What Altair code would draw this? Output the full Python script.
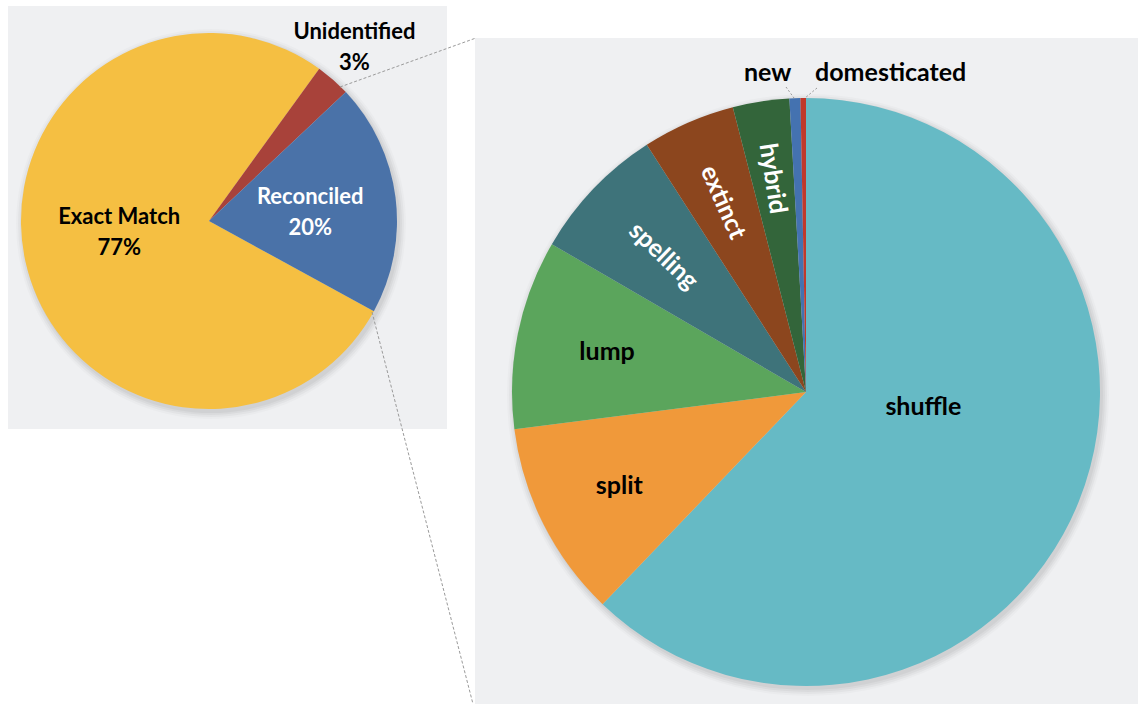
import math
import altair as alt
import pandas as pd

# ---------------- data ----------------
left_categories = ["Exact Match", "Unidentified", "Reconciled"]
left_values = [77, 3, 20]
left_labels = ["Exact Match\n77%", "Unidentified\n3%", "Reconciled\n20%"]
left_colors = ["#F5BF42", "#A8423A", "#4A72A8"]

right_categories = ["shuffle", "split", "lump", "spelling", "extinct", "hybrid", "new", "domesticated"]
right_values = [62.1, 10.8, 10.4, 7.5, 5.1, 3.1, 0.6, 0.3]
right_colors = ["#66BAC5", "#F0993A", "#5BA55C", "#3E737A", "#8C461E", "#33653A", "#4472B0", "#C0392B"]

# ---------------- layout ----------------
W, H = 1138, 704
FONT = "Lato"
PANEL = "#EFF0F2"
L_CX, L_CY, L_R, L_START = 209, 221, 188, 118.7
R_CX, R_CY, R_R, R_START = 806, 392, 294, 0.0


def pie_frame(cats, vals, labels, colors):
    return pd.DataFrame({"cat": cats, "value": vals, "label": labels,
                         "color": colors, "ord": list(range(len(cats)))})


def with_angles(df, start_deg):
    return (
        alt.Chart(df)
        .transform_window(cum="sum(value)", sort=[alt.SortField("ord")], frame=[None, 0])
        .transform_joinaggregate(total="sum(value)")
        .transform_calculate(
            t0=f"{start_deg}*PI/180 + (datum.cum - datum.value) / datum.total * 2 * PI",
            t1=f"{start_deg}*PI/180 + datum.cum / datum.total * 2 * PI",
        )
        .transform_calculate(tm="(datum.t0 + datum.t1) / 2")
        .transform_calculate(rot="datum.tm * 180 / PI - 270")
    )


one = pd.DataFrame({"k": [0]})


def shadow(cx, cy, r):
    layers = []
    for i, op in enumerate([0.04, 0.035, 0.03, 0.02]):
        layers.append(
            alt.Chart(one).mark_arc(theta=0, theta2=2 * math.pi, radius=r + 1 + 2 * i,
                                    color="black", opacity=op)
            .encode(x=alt.value(cx + 2), y=alt.value(cy + 3))
        )
    return layers


def pie(df, cx, cy, r, start, specs):
    base = with_angles(df, start)
    arc = base.mark_arc(radius=r).encode(
        theta=alt.Theta("t0:Q", scale=None, stack=False),
        theta2="t1:Q",
        color=alt.Color("color:N", scale=None),
        x=alt.value(cx), y=alt.value(cy),
    )
    layers = shadow(cx, cy, r) + [arc]
    for s in specs:
        enc = dict(theta=alt.Theta("tm:Q", scale=None, stack=False),
                   text="label:N", x=alt.value(cx), y=alt.value(cy))
        if s.get("radial"):
            enc["angle"] = alt.Angle("rot:Q", scale=None)
        layers.append(
            base.transform_filter(alt.datum.cat == s["cat"]).mark_text(
                radius=s["r"], font=FONT, fontWeight="bold", fontSize=s["size"],
                color=s["color"], align=s.get("align", "center"),
                baseline=s.get("baseline", "middle"), lineBreak="\n",
                lineHeight=s.get("lh", 31), dx=s.get("dx", 0), dy=s.get("dy", 0),
            ).encode(**enc)
        )
    return layers


left_specs = [
    {"cat": "Exact Match", "r": 89, "size": 22, "color": "black", "dx": -3, "dy": -24},
    {"cat": "Reconciled", "r": 101, "size": 22, "color": "white", "dx": 1, "dy": -11},
    {"cat": "Unidentified", "r": 228, "size": 22, "color": "black", "dx": -5, "dy": -18},
]
right_specs = [
    {"cat": "shuffle", "r": 120, "size": 25, "color": "black", "dx": 6, "dy": -30},
    {"cat": "split", "r": 209, "size": 25, "color": "black"},
    {"cat": "lump", "r": 203, "size": 25, "color": "black"},
    {"cat": "spelling", "r": 197, "size": 25, "color": "white", "radial": True},
    {"cat": "extinct", "r": 207, "size": 25, "color": "white", "radial": True},
    {"cat": "hybrid", "r": 216, "size": 25, "color": "white", "radial": True},
    {"cat": "new", "r": 311, "size": 25, "color": "black", "align": "right",
     "baseline": "alphabetic", "dx": -3},
    {"cat": "domesticated", "r": 311, "size": 25, "color": "black", "align": "left",
     "baseline": "alphabetic", "dx": 12},
]


def panel(x1, y1, x2, y2):
    return alt.Chart(one).mark_rect(color=PANEL).encode(
        x=alt.value(x1), x2=alt.value(x2), y=alt.value(y1), y2=alt.value(y2))


def dashed(x1, y1, x2, y2, dash=(3, 2)):
    return alt.Chart(one).mark_rule(color="#9A9A9A", strokeWidth=1, strokeDash=list(dash)).encode(
        x=alt.value(x1), x2=alt.value(x2), y=alt.value(y1), y2=alt.value(y2))


layers = [
    panel(8, 6, 447, 429),
    panel(475, 38, W, H),
]
layers += pie(pie_frame(left_categories, left_values, left_labels, left_colors),
              L_CX, L_CY, L_R, L_START, left_specs)
layers += pie(pie_frame(right_categories, right_values, right_categories, right_colors),
              R_CX, R_CY, R_R, R_START, right_specs)
layers += [
    dashed(340, 87, 476, 38),
    dashed(372, 312, 473, 704),
    dashed(786, 87, 794, 98, (2, 2)),
    dashed(817, 88, 805, 98, (2, 2)),
]

chart = alt.layer(*layers).properties(
    width=W, height=H, padding=0, autosize=alt.AutoSizeParams(type="none"),
    background="white",
).configure_view(stroke=None)

chart.save("out.html", embed_options={"renderer": "svg", "actions": False})
